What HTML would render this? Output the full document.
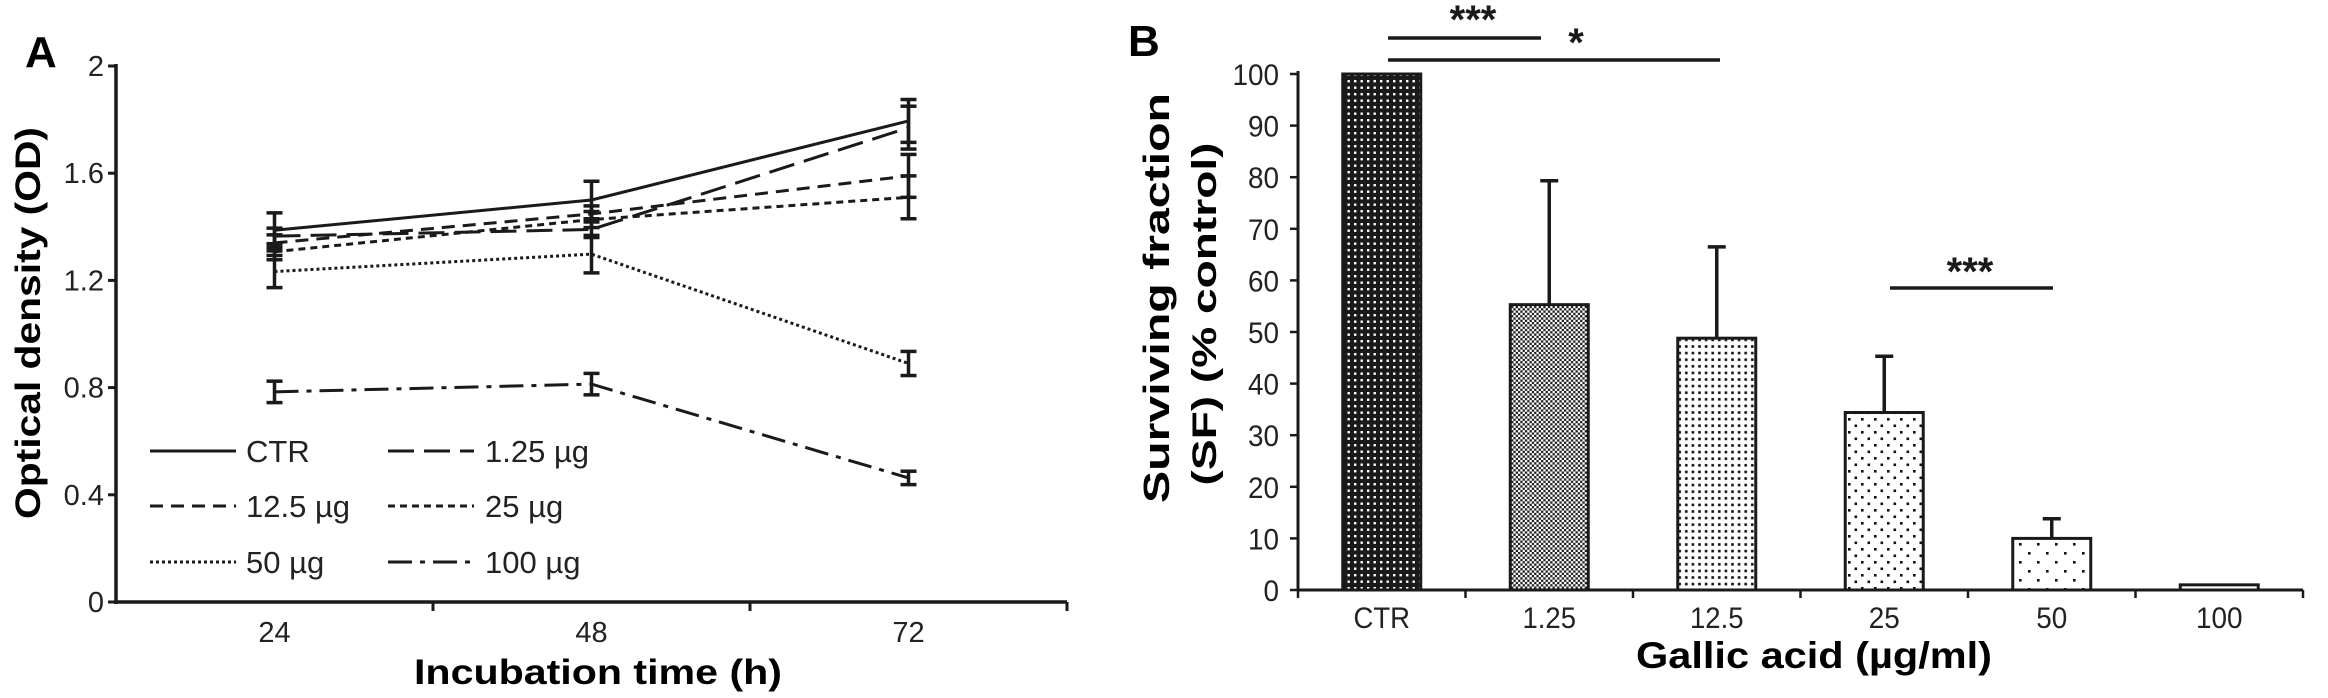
<!DOCTYPE html>
<html><head><meta charset="utf-8"><style>
html,body{margin:0;padding:0;background:#fff;}
svg{display:block;font-family:"Liberation Sans",sans-serif;}
</style></head><body>
<svg id="chart" width="2328" height="698" viewBox="0 0 2328 698" xmlns="http://www.w3.org/2000/svg">
<defs>
<pattern id="pCTR" width="6.5" height="6.5" patternUnits="userSpaceOnUse"><rect width="6.5" height="6.5" fill="#1a1a1a"/><rect x="2" y="2" width="2.4" height="2.4" fill="#fff"/></pattern>
<pattern id="p125" width="4.6" height="4.6" patternUnits="userSpaceOnUse"><rect width="4.6" height="4.6" fill="#fff"/><rect width="2.3" height="2.3" fill="#222"/><rect x="2.3" y="2.3" width="2.3" height="2.3" fill="#222"/></pattern>
<pattern id="p12" width="6.6" height="6.6" patternUnits="userSpaceOnUse"><rect width="6.6" height="6.6" fill="#fff"/><rect x="2" y="2" width="2.6" height="2.6" fill="#111"/></pattern>
<pattern id="p25" width="13" height="13" patternUnits="userSpaceOnUse"><rect width="13" height="13" fill="#fff"/><rect x="2" y="2" width="2.6" height="2.6" fill="#111"/><rect x="8.5" y="8.5" width="2.6" height="2.6" fill="#111"/></pattern>
<pattern id="p50" width="18" height="18" patternUnits="userSpaceOnUse"><rect width="18" height="18" fill="#fff"/><rect x="3" y="3" width="2.6" height="2.6" fill="#111"/><rect x="12" y="12" width="2.6" height="2.6" fill="#111"/></pattern>
<pattern id="p100" width="10" height="10" patternUnits="userSpaceOnUse"><rect width="10" height="10" fill="#fff"/><rect x="3" y="3" width="2" height="2" fill="#555"/></pattern>
</defs>
<g id="panelA"></g>
<g id="panelB"></g>
</svg>
<script>
// ---- Panel A data ----
const timeLabels = ["24","48","72"];
const seriesNames = ["CTR","1.25 µg","12.5 µg","25 µg","50 µg","100 µg"];
const odCTR = [1.387,1.50,1.795];
const od125 = [1.365,1.39,1.77];
const od12_5 = [1.34,1.448,1.59];
const od25 = [1.307,1.427,1.51];
const od50 = [1.233,1.298,0.89];
const od100 = [0.784,0.813,0.463];
const errCTR = [0.065,0.07,0.08];
const err125 = [0.03,0.03,0.08];
const err12_5 = [0.03,0.03,0.08];
const err25 = [0.03,0.03,0.08];
const err50 = [0.06,0.07,0.045];
const err100 = [0.04,0.04,0.025];
const yTicksA = ["0","0.4","0.8","1.2","1.6","2"];
// ---- Panel B data ----
const doseLabels = ["CTR","1.25","12.5","25","50","100"];
const survival = [100,55.3,48.8,34.4,10,1];
const survivalErr = [0,24,17.7,10.9,3.8,0];
const yTicksB = ["0","10","20","30","40","50","60","70","80","90","100"];

const NS="http://www.w3.org/2000/svg";
function mk(parent,tag,attrs,text){const e=document.createElementNS(NS,tag);for(const k in attrs)e.setAttribute(k,attrs[k]);if(text!==undefined)e.textContent=text;parent.appendChild(e);return e;}

// ---------- Panel A ----------
const A=document.getElementById('panelA');
const ax0=116, ax1=1067, ay0=602, ay1=66;
const yA=v=>ay0-(v/2)*(ay0-ay1);
const band=(ax1-ax0)/timeLabels.length;
const xA=i=>ax0+band*(i+0.5);
let e;
e=mk(A,'text',{x:25,y:67,'font-size':44,'font-weight':'bold'},'A');


e=mk(A,'line',{x1:ax0,y1:ay1-2,x2:ax0,y2:ay0+2,stroke:'#1a1a1a','stroke-width':3.5});


e=mk(A,'line',{x1:ax0-2,y1:ay0,x2:ax1,y2:ay0,stroke:'#1a1a1a','stroke-width':3.5});


yTicksA.forEach(t=>{const y=yA(parseFloat(t));
 e=mk(A,'line',{x1:ax0-8,y1:y,x2:ax0,y2:y,stroke:'#1a1a1a','stroke-width':3});
 
 
 e=mk(A,'text',{x:ax0-12,y:y+10,'font-size':29,'text-anchor':'end',fill:'#222'},t);
 
 
});
timeLabels.forEach((t,i)=>{
 const tx=ax0+band*(i+1);
 e=mk(A,'line',{x1:tx,y1:ay0,x2:tx,y2:ay0+9,stroke:'#1a1a1a','stroke-width':3});
 
 
 e=mk(A,'text',{x:xA(i),y:642,'font-size':29,'text-anchor':'middle',fill:'#222'},t);
 
 
});
e=mk(A,'text',{x:598,y:684,'font-size':35,'font-weight':'bold','text-anchor':'middle',textLength:368,lengthAdjust:'spacingAndGlyphs'},'Incubation time (h)');


e=mk(A,'text',{x:0,y:0,'font-size':35,'font-weight':'bold','text-anchor':'middle',transform:'translate(40,323) rotate(-90)',textLength:392,lengthAdjust:'spacingAndGlyphs'},'Optical density (OD)');



const seriesVals=[odCTR,od125,od12_5,od25,od50,od100];
const seriesErr=[errCTR,err125,err12_5,err25,err50,err100];
const dashes=['none','26 10','13 8','7 5','3 3','24 8 5 8'];
seriesVals.forEach((vals,s)=>{
 const pts=vals.map((v,i)=>xA(i)+','+yA(v)).join(' ');
 e=mk(A,'polyline',{points:pts,fill:'none',stroke:'#1a1a1a','stroke-width':3,'stroke-dasharray':dashes[s]});
 
 
 vals.forEach((v,i)=>{const x=xA(i),er=seriesErr[s][i];
  const g=mk(A,'g',{stroke:'#1a1a1a','stroke-width':3.5});
  
  
  mk(g,'line',{x1:x,y1:yA(v-er),x2:x,y2:yA(v+er)});
  mk(g,'line',{x1:x-8,y1:yA(v-er),x2:x+8,y2:yA(v-er)});
  mk(g,'line',{x1:x-8,y1:yA(v+er),x2:x+8,y2:yA(v+er)});
 });
});
// legend
const legX=[150,388], legTX=[246,485], legY=[451,506,562];
seriesNames.forEach((n,s)=>{const c=s%2,r=Math.floor(s/2);
 const g=mk(A,'g',{});
 
 
 mk(g,'line',{x1:legX[c],y1:legY[r],x2:legX[c]+86,y2:legY[r],stroke:'#1a1a1a','stroke-width':3,'stroke-dasharray':dashes[s]});
 mk(g,'text',{x:legTX[c],y:legY[r]+11,'font-size':31,fill:'#222'},n);
});

// ---------- Panel B ----------
const B=document.getElementById('panelB');
const bx0=1298, bx1=2303, by0=590, by1=74;
const yB=v=>by0-(v/100)*(by0-by1);
const bband=(bx1-bx0)/doseLabels.length;
const xB=i=>bx0+bband*(i+0.5);
const barW=78;
const fills=['url(#pCTR)','url(#p125)','url(#p12)','url(#p25)','url(#p50)','url(#p100)'];
e=mk(B,'text',{x:1128,y:56,'font-size':44,'font-weight':'bold'},'B');


survival.forEach((v,i)=>{const x=xB(i);
 if(survivalErr[i]>0){
  const g=mk(B,'g',{stroke:'#1a1a1a','stroke-width':3.5});
  
  
  mk(g,'line',{x1:x,y1:yB(v),x2:x,y2:yB(v+survivalErr[i])});
  mk(g,'line',{x1:x-9,y1:yB(v+survivalErr[i]),x2:x+9,y2:yB(v+survivalErr[i])});
 }
 e=mk(B,'rect',{x:x-barW/2,y:yB(v),width:barW,height:Math.max(by0-yB(v),2),fill:fills[i],stroke:'#1a1a1a','stroke-width':3});
 
 
});
e=mk(B,'line',{x1:bx0,y1:by1-3,x2:bx0,y2:by0,stroke:'#1a1a1a','stroke-width':3});


e=mk(B,'line',{x1:bx0,y1:by0,x2:bx1,y2:by0,stroke:'#1a1a1a','stroke-width':3});


yTicksB.forEach(t=>{const y=yB(parseFloat(t));
 e=mk(B,'line',{x1:bx0-8,y1:y,x2:bx0,y2:y,stroke:'#1a1a1a','stroke-width':2.5});
 
 
 e=mk(B,'text',{x:bx0-19,y:y+11,'font-size':30,'text-anchor':'end',fill:'#222',textLength:t.length*15.5,lengthAdjust:'spacingAndGlyphs'},t);
 
 
});
for(let i=0;i<=doseLabels.length;i++){const tx=bx0+bband*i;
 e=mk(B,'line',{x1:tx,y1:by0,x2:tx,y2:by0+8,stroke:'#1a1a1a','stroke-width':2.5});
 
 
}
doseLabels.forEach((t,i)=>{
 const w=t.replace('.','').length*15.5+(t.includes('.')?7:0)+(t==='CTR'?10:0);
 e=mk(B,'text',{x:xB(i),y:628,'font-size':30,'text-anchor':'middle',fill:'#222',textLength:w,lengthAdjust:'spacingAndGlyphs'},t);
 
 
});
e=mk(B,'text',{x:1814,y:668,'font-size':37,'font-weight':'bold','text-anchor':'middle',textLength:356,lengthAdjust:'spacingAndGlyphs'},'Gallic acid (µg/ml)');


e=mk(B,'text',{x:0,y:0,'font-size':36,'font-weight':'bold','text-anchor':'middle',transform:'translate(1169,298) rotate(-90)',textLength:410,lengthAdjust:'spacingAndGlyphs'},'Surviving fraction');


e=mk(B,'text',{x:0,y:0,'font-size':34,'font-weight':'bold','text-anchor':'middle',transform:'translate(1216,314) rotate(-90)',textLength:343,lengthAdjust:'spacingAndGlyphs'},'(SF) (% control)');


// significance
const sig=[[1388,1541,38,'***',1473,33],[1388,1720,60,'*',1576,56],[1890,2053,288,'***',1970,285]];
sig.forEach(s=>{
 const g=mk(B,'g',{});
 
 
 mk(g,'line',{x1:s[0],y1:s[2],x2:s[1],y2:s[2],stroke:'#1a1a1a','stroke-width':3.5});
 mk(g,'text',{x:s[4],y:s[5],'font-size':40,'font-weight':'bold','text-anchor':'middle',fill:'#1a1a1a'},s[3]);
});
</script>
</body></html>
